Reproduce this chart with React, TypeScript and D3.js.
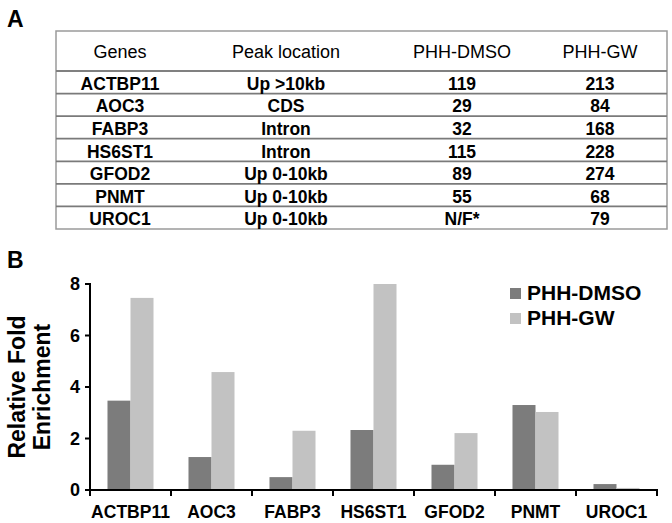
import React from "react";
import * as d3 from "d3";

const genes = ["ACTBP11", "AOC3", "FABP3", "HS6ST1", "GFOD2", "PNMT", "UROC1"];
const peakLocations = ["Up >10kb", "CDS", "Intron", "Intron", "Up 0-10kb", "Up 0-10kb", "Up 0-10kb"];
const dmsoPeaks = ["119", "29", "32", "115", "89", "55", "N/F*"];
const gwPeaks = ["213", "84", "168", "228", "274", "68", "79"];
const tableHeaders = ["Genes", "Peak location", "PHH-DMSO", "PHH-GW"];

const seriesNames = ["PHH-DMSO", "PHH-GW"];
const dmsoEnrichment = [3.47, 1.28, 0.5, 2.33, 0.98, 3.3, 0.23];
const gwEnrichment = [7.46, 4.58, 2.3, 8.0, 2.21, 3.03, 0.08];
const yTicks = [0, 2, 4, 6, 8];

const colors = ["#7c7c7c", "#c2c2c2"];
const FONT = "'Liberation Sans', Arial, sans-serif";

export default function App() {
  const W = 672, H = 523;
  // table layout
  const tLeft = 56, tRight = 667, tTop = 31, headBottom = 71, tBottom = 229;
  const rowY = d3.scaleBand<number>().domain(d3.range(genes.length)).range([headBottom, tBottom]);
  const colCenters = [120, 286, 462, 600];
  const rows = genes.map((g, i) => [g, peakLocations[i], dmsoPeaks[i], gwPeaks[i]]);

  // chart layout
  const x0 = 90, x1 = 657, yTop = 284, yBase = 490;
  const x = d3.scaleBand<string>().domain(genes).range([x0, x1]).paddingInner(0.432).paddingOuter(0.216);
  const xs = d3.scaleBand<string>().domain(seriesNames).range([0, x.bandwidth()]);
  const y = d3.scaleLinear().domain([0, 8]).range([yBase, yTop]);
  const step = x.step();
  const values = [dmsoEnrichment, gwEnrichment];

  return (
    <svg width={W} height={H} style={{ position: "absolute", left: 0, top: 0, background: "#fff" }} fontFamily={FONT}>
      <rect x={0} y={0} width={W} height={H} fill="#fff" />
      {/* Panel A */}
      <text x={7} y={27} fontSize={23} fontWeight="bold">A</text>
      <rect x={tLeft} y={tTop} width={tRight - tLeft} height={tBottom - tTop} fill="none" stroke="#9a9a9a" strokeWidth={1.5} />
      <line x1={tLeft} x2={tRight} y1={headBottom} y2={headBottom} stroke="#808080" strokeWidth={2} />
      {rows.slice(1).map((_, i) => (
        <line key={i} x1={tLeft} x2={tRight} y1={rowY(i + 1)!} y2={rowY(i + 1)!} stroke="#7a7a7a" strokeWidth={1.8} />
      ))}
      {tableHeaders.map((h, j) => (
        <text key={h} x={colCenters[j]} y={(tTop + headBottom) / 2 + 1} fontSize={18} textAnchor="middle" dominantBaseline="central">{h}</text>
      ))}
      {rows.map((r, i) =>
        r.map((c, j) => (
          <text key={i + "-" + j} x={colCenters[j]} y={rowY(i)! + rowY.bandwidth() / 2 + 1.5} fontSize={17.5} fontWeight="bold" textAnchor="middle" dominantBaseline="central">{c}</text>
        ))
      )}

      {/* Panel B */}
      <text x={7} y={268} fontSize={23} fontWeight="bold">B</text>
      {genes.map((g, i) =>
        values.map((vals, s) => (
          <rect key={g + s} x={x(g)! + xs(seriesNames[s])!} y={y(vals[i])} width={xs.bandwidth()} height={yBase - y(vals[i])} fill={colors[s]} />
        ))
      )}
      {/* y axis */}
      <line x1={x0} x2={x0} y1={yTop - 1} y2={yBase + 6} stroke="#000" strokeWidth={2} />
      {yTicks.map((t) => (
        <g key={t}>
          <line x1={x0 - 5} x2={x0} y1={y(t)} y2={y(t)} stroke="#000" strokeWidth={2} />
          <text x={80} y={y(t)} fontSize={18} fontWeight="bold" textAnchor="end" dominantBaseline="central">{t}</text>
        </g>
      ))}
      {/* x axis */}
      <line x1={x0} x2={x1 + 1} y1={yBase} y2={yBase} stroke="#000" strokeWidth={2} />
      {d3.range(genes.length + 1).map((i) => (
        <line key={i} x1={x0 + i * step} x2={x0 + i * step} y1={yBase} y2={yBase + 6} stroke="#000" strokeWidth={2} />
      ))}
      {genes.map((g) => (
        <text key={g} x={x(g)! + x.bandwidth() / 2} y={518} fontSize={17.5} fontWeight="bold" textAnchor="middle">{g}</text>
      ))}
      {/* y label */}
      <g transform={`translate(25, ${387}) rotate(-90)`}>
        <text x={0} y={0} fontSize={23} fontWeight="bold" textAnchor="middle">Relative Fold</text>
        <text x={0} y={25} fontSize={23} fontWeight="bold" textAnchor="middle">Enrichment</text>
      </g>
      {/* legend */}
      {seriesNames.map((s, i) => (
        <g key={s} transform={`translate(510, ${288 + i * 25})`}>
          <rect x={0} y={0} width={11} height={11} fill={colors[i]} />
          <text x={17} y={12} fontSize={21} fontWeight="bold">{s}</text>
        </g>
      ))}
    </svg>
  );
}
